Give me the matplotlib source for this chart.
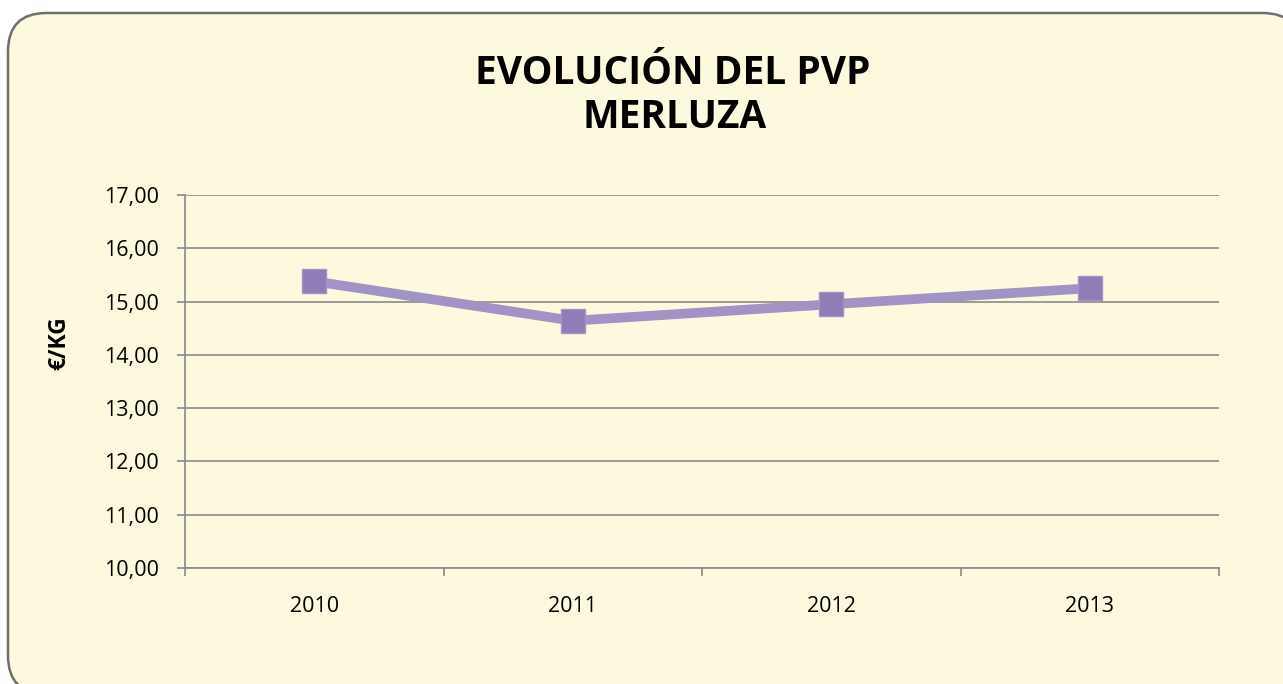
import matplotlib
matplotlib.use("Agg")
import matplotlib.pyplot as plt
from matplotlib.patches import FancyBboxPatch
import numpy as np

years = ["2010", "2011", "2012", "2013"]
prices = [15.38, 14.64, 14.95, 15.25]
yticks = [10, 11, 12, 13, 14, 15, 16, 17]

plt.rcParams['font.family'] = ['Open Sans', 'DejaVu Sans']

W, H = 1283, 684
fig = plt.figure(figsize=(W/100, H/100), dpi=100)
fig.patch.set_facecolor('white')

# rounded frame (extends past right/bottom edges)
frame = FancyBboxPatch((8/W, -10/H), (W + 10)/W, (H - 3)/H,
                       boxstyle="round,pad=0,rounding_size=0.03",
                       transform=fig.transFigure, facecolor='#FDF9DE',
                       edgecolor='#6f6f6f', linewidth=1.8, zorder=-10,
                       mutation_aspect=W/H)
fig.patches.append(frame)

ax = fig.add_axes([185/W, 1-568/H, (1219-185)/W, (568-195)/H])
ax.set_zorder(5)
ax.set_facecolor('none')

x = np.arange(len(years))
ax.plot(x, prices, color='#A193C3', linewidth=7, zorder=3,
        marker='s', markersize=17, markerfacecolor='#8E7DB7',
        markeredgecolor='#A393C6', markeredgewidth=1)

ax.set_xlim(-0.5, len(years)-0.5)
ax.set_ylim(10, 17)
ax.set_yticks(yticks)
ax.set_yticklabels([f"{v:.2f}".replace('.', ',') for v in yticks], fontsize=15.5)
ax.set_xticks(x)
ax.set_xticklabels(years, fontsize=15.5)
ax.tick_params(axis='x', length=0, pad=20)
ax.set_xticks(np.arange(-0.5, len(years), 1), minor=True)
ax.tick_params(axis='x', which='minor', length=6, color='#888888', width=1.2)
ax.tick_params(axis='y', length=6, color='#888888', width=1.2, pad=13)
ax.grid(axis='y', color='#8a8a8a', linewidth=1.2, zorder=1)
for s in ['top', 'right']:
    ax.spines[s].set_visible(False)
for s in ['left', 'bottom']:
    ax.spines[s].set_color('#888888')
    ax.spines[s].set_linewidth(1.2)

ax.set_ylabel("€/KG", fontsize=16.5, fontweight='bold')
ax.yaxis.set_label_coords((71-185)/1034, (568-343)/373)

fig.text(673/W, 1-73/H, "EVOLUCIÓN DEL PVP", ha='center', va='center',
         fontsize=28, fontweight='bold')
fig.text(675/W, 1-117/H, "MERLUZA", ha='center', va='center',
         fontsize=28, fontweight='bold')

fig.savefig("out.png", dpi=100, facecolor=fig.get_facecolor())
